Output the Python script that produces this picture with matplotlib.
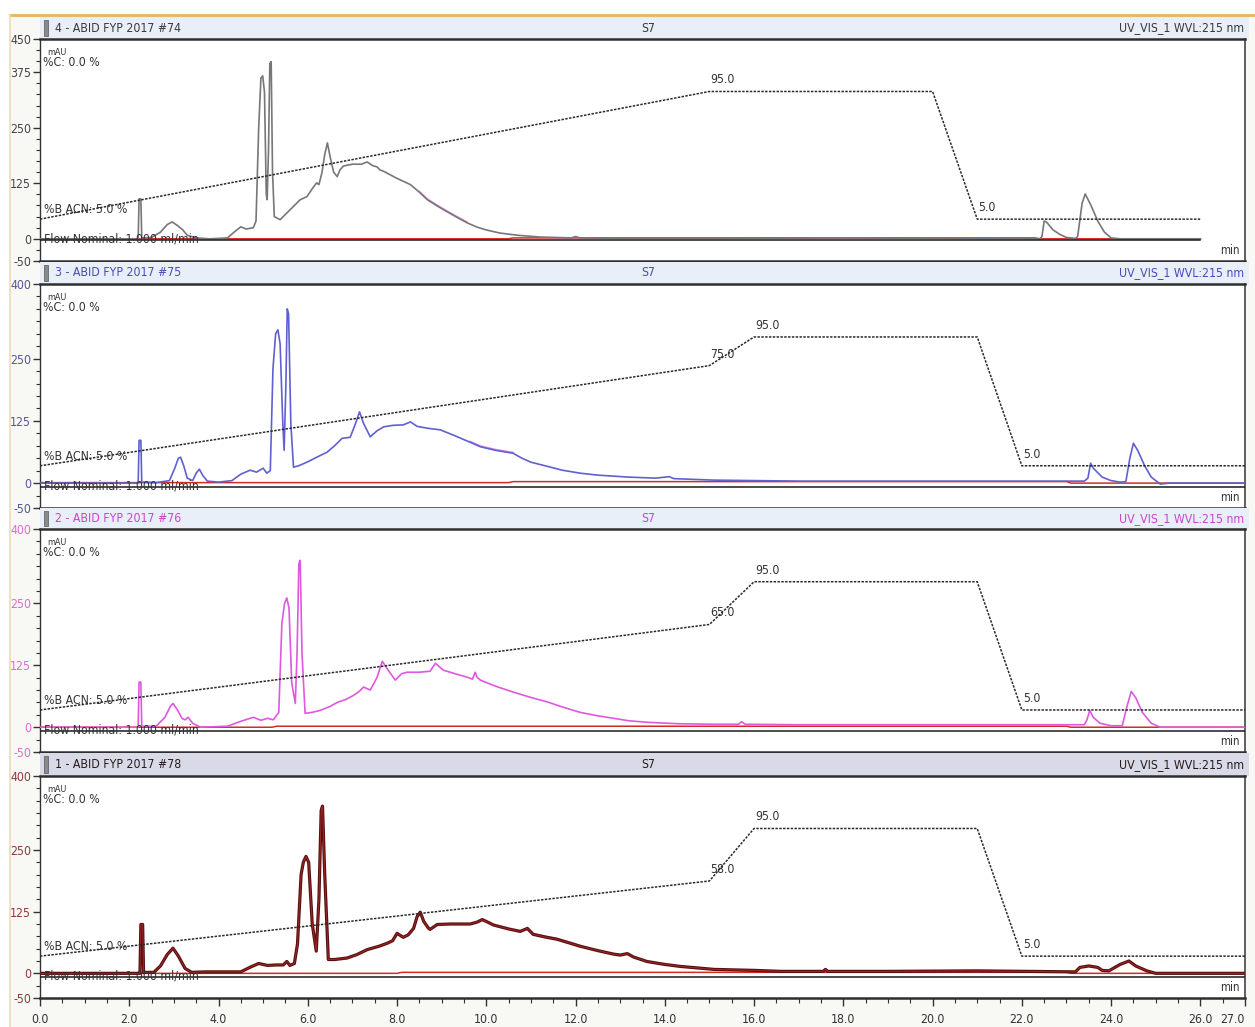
import numpy as np
import matplotlib
matplotlib.use("Agg")
import matplotlib.pyplot as plt
from matplotlib.patches import Rectangle
from matplotlib.lines import Line2D
from matplotlib.ticker import MultipleLocator

plt.rcParams['font.family'] = ['DejaVu Sans']
plt.rcParams['font.stretch'] = 'condensed'

# ---------------- data ----------------
titles = ["4 - ABID FYP 2017 #74", "3 - ABID FYP 2017 #75",
          "2 - ABID FYP 2017 #76", "1 - ABID FYP 2017 #78"]
sample_name = "S7"
channel = "UV_VIS_1 WVL:215 nm"

# panel 1 (grey trace) time [min], signal [mAU]
p1_time = [0.0, 2.0, 2.2, 2.22, 2.26, 2.28, 2.5, 2.7, 2.85, 2.96, 3.08, 3.2, 3.3, 3.5, 3.8,
           4.2, 4.35, 4.5, 4.62, 4.78, 4.84, 4.9, 4.95, 4.99, 5.03, 5.07, 5.09, 5.12, 5.15,
           5.18, 5.21, 5.25, 5.38, 5.6, 5.83, 5.98, 6.13, 6.2, 6.25, 6.32, 6.38, 6.44, 6.5,
           6.58, 6.66, 6.72, 6.8, 7.0, 7.2, 7.33, 7.45, 7.55, 7.62, 7.7, 7.85, 8.0, 8.3, 8.5,
           8.68, 8.9, 9.12, 9.35, 9.57, 9.8, 10.0, 10.3, 10.7, 11.2, 11.9, 12.0, 12.1, 13.0,
           15.0, 18.0, 22.4, 22.45, 22.5, 22.55, 22.7, 22.85, 23.0, 23.2, 23.25, 23.35, 23.42,
           23.55, 23.7, 23.85, 24.0, 24.2, 26.0]
p1_mau = [0, 0, 0, 90, 90, 2, 3, 15, 32, 38, 30, 20, 8, 2, 0,
          2, 15, 27, 22, 25, 40, 250, 362, 367, 330, 100, 88, 200, 395,
          399, 150, 50, 43, 65, 88, 95, 117, 126, 122, 150, 190, 216, 185,
          150, 140, 155, 164, 168, 168, 173, 165, 162, 155, 152, 144, 136, 122, 105,
          88, 74, 61, 48, 36, 26, 20, 13, 8, 4, 2, 5, 2, 1,
          1, 2, 0, 5, 40, 38, 20, 10, 3, 1, 5, 80, 101,
          75, 40, 15, 2, 0, 0]

# panel 2 (blue trace)
p2_time = [0.0, 2.2, 2.22, 2.26, 2.28, 2.6, 2.9, 3.02, 3.1, 3.15, 3.22, 3.3, 3.42, 3.5, 3.57,
           3.65, 3.75, 4.0, 4.3, 4.5, 4.71, 4.85, 5.0, 5.08, 5.16, 5.22, 5.28, 5.33, 5.38,
           5.44, 5.47, 5.51, 5.54, 5.57, 5.62, 5.68, 5.8, 5.98, 6.2, 6.43, 6.6, 6.77, 6.95,
           7.05, 7.16, 7.25, 7.4, 7.55, 7.7, 7.9, 8.14, 8.3, 8.45, 8.7, 8.97, 9.3, 9.64,
           9.87, 10.2, 10.6, 10.8, 11.0, 11.4, 11.7, 12.1, 12.5, 13.2, 13.8, 14.1, 14.2,
           15.1, 17.0, 20.0, 23.4, 23.48, 23.54, 23.6, 23.8, 24.0, 24.2, 24.33, 24.42, 24.5,
           24.6, 24.75, 24.9, 25.1, 25.3, 27.0]
p2_mau = [0, 0, 86, 86, 2, 1, 5, 30, 50, 52, 35, 10, 5, 20, 28,
          15, 4, 2, 5, 18, 26, 22, 30, 20, 25, 230, 300, 308, 280,
          120, 66, 200, 350, 340, 120, 32, 35, 42, 52, 62, 75, 90, 92,
          115, 143, 120, 93, 105, 113, 116, 117, 123, 114, 110, 107, 95, 82,
          73, 66, 60, 50, 42, 33, 26, 20, 16, 12, 10, 13, 9,
          6, 4, 4, 4, 10, 40, 30, 12, 5, 2, 3, 50, 80,
          65, 35, 12, -2, 0, 0]

# panel 3 (magenta trace)
p3_time = [0.0, 2.2, 2.22, 2.26, 2.28, 2.6, 2.8, 2.92, 2.98, 3.08, 3.18, 3.25, 3.32, 3.42, 3.6,
           4.2, 4.5, 4.78, 4.95, 5.1, 5.23, 5.35, 5.42, 5.48, 5.53, 5.58, 5.64, 5.72, 5.76,
           5.8, 5.83, 5.87, 5.94, 6.1, 6.28, 6.5, 6.66, 6.85, 7.02, 7.15, 7.25, 7.4, 7.55,
           7.67, 7.78, 7.96, 8.1, 8.23, 8.5, 8.74, 8.86, 9.04, 9.3, 9.57, 9.69, 9.75, 9.8,
           9.87, 10.2, 10.6, 11.0, 11.37, 11.7, 12.1, 12.5, 12.85, 13.2, 13.6, 14.3, 15.1,
           15.65, 15.72, 15.8, 17.0, 20.0, 23.4, 23.46, 23.52, 23.6, 23.75, 24.0, 24.25,
           24.35, 24.45, 24.55, 24.7, 24.9, 25.1, 27.0]
p3_mau = [0, 0, 91, 91, 2, 2, 20, 42, 48, 35, 18, 15, 20, 8, 0,
          2, 12, 20, 14, 18, 15, 30, 210, 250, 261, 240, 90, 48, 150,
          330, 337, 150, 28, 30, 34, 42, 50, 56, 64, 72, 81, 75, 100,
          133, 118, 95, 108, 111, 111, 113, 129, 115, 108, 101, 97, 111, 100,
          95, 83, 71, 60, 51, 41, 30, 23, 18, 13, 10, 7, 6,
          6, 11, 6, 5, 5, 5, 15, 34, 20, 8, 3, 3,
          40, 72, 60, 30, 8, 0, 0]

# panel 4 (dark red trace)
p4_time = [0.0, 2.24, 2.26, 2.3, 2.32, 2.55, 2.7, 2.85, 2.98, 3.1, 3.25, 3.4, 3.7, 4.5, 4.7,
           4.9, 5.1, 5.3, 5.45, 5.53, 5.6, 5.7, 5.77, 5.85, 5.9, 5.96, 6.02, 6.1, 6.19, 6.25,
           6.3, 6.33, 6.38, 6.46, 6.6, 6.88, 7.1, 7.33, 7.6, 7.78, 7.9, 8.0, 8.14, 8.25, 8.37,
           8.45, 8.52, 8.6, 8.7, 8.74, 8.9, 9.2, 9.64, 9.8, 9.91, 10.05, 10.16, 10.5, 10.76,
           10.92, 11.05, 11.3, 11.59, 12.1, 12.5, 12.85, 13.0, 13.16, 13.3, 13.6, 14.0, 14.35,
           15.1, 16.0, 16.6, 17.55, 17.6, 17.65, 19.0, 21.0, 23.2, 23.3, 23.5, 23.7, 23.8,
           23.95, 24.2, 24.4, 24.55, 24.8, 25.0, 27.0]
p4_mau = [0, 0, 99, 99, 2, 2, 15, 38, 51, 35, 10, 2, 3, 3, 12,
          20, 16, 17, 17, 24, 16, 20, 60, 200, 225, 237, 225, 100, 45, 150,
          330, 339, 200, 28, 28, 31, 38, 48, 55, 61, 66, 81, 73, 78, 91,
          115, 124, 105, 92, 89, 99, 100, 100, 104, 109, 103, 98, 90, 85,
          91, 79, 74, 69, 55, 46, 39, 37, 40, 33, 24, 18, 14,
          8, 6, 4, 4, 8, 4, 4, 5, 3, 12, 15, 12, 6,
          5, 18, 25, 15, 5, 0, 0]

# red baselines
base_time = [[0.0, 10.5, 10.6, 22.3, 22.4, 26.0],
             [0.0, 10.5, 10.6, 23.0, 23.1, 27.0],
             [0.0, 5.2, 5.3, 23.0, 23.1, 27.0],
             [0.0, 8.0, 8.1, 23.0, 23.1, 27.0]]
base_mau = [[0, 0, 2, 2, 0, 0],
            [1, 1, 3, 3, 0, 0],
            [0, 0, 2, 2, 0, 0],
            [0, 0, 2, 2, 0, 0]]

# gradient %B
grad_time = [[0, 15, 20, 21, 26],
             [0, 15, 16, 21, 22, 27],
             [0, 15, 16, 21, 22, 27],
             [0, 15, 16, 21, 22, 27]]
grad_pct = [[5.0, 95.0, 95.0, 5.0, 5.0],
            [5.0, 75.0, 95.0, 95.0, 5.0, 5.0],
            [5.0, 65.0, 95.0, 95.0, 5.0, 5.0],
            [5.0, 58.0, 95.0, 95.0, 5.0, 5.0]]
grad_label_idx = [[1, 3], [1, 2, 4], [1, 2, 4], [1, 2, 4]]

# flow (ml/min)
flow_time = [[0, 26], [0, 27], [0, 27], [0, 27]]
flow_val = [[1.0, 1.0], [1.0, 1.0], [1.0, 1.0], [1.0, 1.0]]

yticks_p = [[-50, 0, 125, 250, 375, 450],
            [-50, 0, 125, 250, 400],
            [-50, 0, 125, 250, 400],
            [-50, 0, 125, 250, 400]]
xtick_vals = [0, 2, 4, 6, 8, 10, 12, 14, 16, 18, 20, 22, 24, 26, 27]

traces_t = [p1_time, p2_time, p3_time, p4_time]
traces_v = [p1_mau, p2_mau, p3_mau, p4_mau]
pink_ranges = [(8.5, 9.6), (9.6, 10.6), None, (10.9, 12.2)]

# ---------------- style ----------------
W, H = 1255, 1027
fig = plt.figure(figsize=(W / 100, H / 100), dpi=100)
fig.patch.set_facecolor('white')


def frect(x0, y0, x1, y1):
    return [x0 / W, 1 - y1 / H, (x1 - x0) / W, (y1 - y0) / H]


fig.add_artist(Rectangle((10 / W, 0), (W - 10) / W, 1 - 15 / H, transform=fig.transFigure,
                         facecolor='#f8f8f4', edgecolor='none', zorder=0))
fig.add_artist(Line2D([10 / W, 1], [1 - 15 / H] * 2, transform=fig.transFigure,
                      color='#e8b86c', lw=2.2, zorder=1))
fig.add_artist(Line2D([10 / W] * 2, [0, 1 - 15 / H], transform=fig.transFigure,
                      color='#f0dcb0', lw=1.2, zorder=1))

panel_frames = [(39, 261), (284, 508), (529, 752), (776, 998)]
header_frames = [(17, 39), (262, 284), (508, 529), (753, 776)]
header_bg = ['#e8eff9', '#e8eff9', '#e8eff9', '#d8dbe7']
header_fg = ['#3a3a3a', '#4a4ab8', '#cc44cc', '#2a1a1a']
ylims = [(-50, 450), (-50, 400), (-50, 400), (-50, 400)]
trace_col = ['#777777', '#6060d0', '#e058e0', '#5a0e0e']
trace_lw = [1.2, 1.2, 1.2, 2.3]
ytick_col = ['#444444', '#55559a', '#d870d0', '#8a3a3a']
FS = 8.8

for i in range(4):
    ht, hb = header_frames[i]
    hax = fig.add_axes(frect(40, ht, 1249, hb))
    hax.set_facecolor(header_bg[i])
    hax.set_xticks([]); hax.set_yticks([])
    for s in hax.spines.values():
        s.set_visible(False)
    hax.add_patch(Rectangle((0.003, 0.15), 0.004, 0.7, transform=hax.transAxes,
                            facecolor='#8a8a8a', edgecolor='#555555', lw=0.5))
    hax.text(0.012, 0.5, titles[i], transform=hax.transAxes, ha='left', va='center',
             fontsize=FS, color=header_fg[i])
    hax.text(0.503, 0.5, sample_name, transform=hax.transAxes, ha='center', va='center',
             fontsize=FS, color=header_fg[i])
    hax.text(0.996, 0.5, channel, transform=hax.transAxes, ha='right', va='center',
             fontsize=FS, color=header_fg[i])

    top, bot = panel_frames[i]
    ax = fig.add_axes(frect(40, top, 1245, bot))
    ax.set_facecolor('white')
    ax.set_xlim(0, 27)
    ax.set_ylim(*ylims[i])

    ax.plot(base_time[i], base_mau[i], color='#d42a2a', lw=1.1, zorder=2)
    ax.plot(traces_t[i], traces_v[i], color=trace_col[i], lw=trace_lw[i], zorder=3)
    if i == 3:
        ax.plot(traces_t[i], traces_v[i], color='#9a2a2a', lw=0.7, zorder=3.2)
    pr = pink_ranges[i]
    if pr is not None:
        tt = [t for t in traces_t[i] if pr[0] <= t <= pr[1]]
        vv = [v for t, v in zip(traces_t[i], traces_v[i]) if pr[0] <= t <= pr[1]]
        ax.plot(tt, [v + 1.5 for v in vv], color='#e050e0', lw=1.2, alpha=0.7, zorder=2.5)

    for side in ('top', 'bottom'):
        ax.spines[side].set_linewidth(1.8)
        ax.spines[side].set_color('#2e2e2e')
    ax.spines['left'].set_linewidth(1.0)
    ax.spines['left'].set_color('#333333')
    ax.spines['right'].set_linewidth(1.2)
    ax.spines['right'].set_color('#444444')

    ax.set_yticks(yticks_p[i])
    ax.set_yticklabels([str(v) for v in yticks_p[i]])
    ax.yaxis.set_minor_locator(MultipleLocator(25))
    ax.tick_params(axis='y', which='major', direction='out', length=5, width=1,
                   labelsize=FS, labelcolor=ytick_col[i], pad=1.5, color='#333333')
    ax.tick_params(axis='y', which='minor', direction='out', length=3, width=0.8,
                   color='#333333')

    if i == 3:
        ax.set_xticks(xtick_vals)
        ax.set_xticklabels([f"{v:.1f}" for v in xtick_vals])
        ax.xaxis.set_minor_locator(MultipleLocator(0.5))
        ax.tick_params(axis='x', which='major', direction='out', length=6, width=1,
                       labelsize=FS, labelcolor='#333333', pad=5, color='#333333')
        ax.tick_params(axis='x', which='minor', direction='out', length=3.5, width=0.8,
                       color='#333333')
        lbls = ax.get_xticklabels()
        lbls[-1].set_horizontalalignment('right')
        lbls[-1].set_x(27)
    else:
        ax.tick_params(axis='x', which='both', bottom=False, labelbottom=False)

    ax.annotate('mAU', (0, 1), xycoords='axes fraction', xytext=(7, -9),
                textcoords='offset pixels', fontsize=6.5, color='#333333', va='top', ha='left')
    ax.annotate('%C: 0.0 %', (0, 1), xycoords='axes fraction', xytext=(3, -17),
                textcoords='offset pixels', fontsize=FS, color='#333333', va='top', ha='left')

    # gradient
    gax = ax.twinx()
    gax.set_ylim(-24.5, 132)
    gax.set_axis_off()
    gax.plot(grad_time[i], grad_pct[i], color='#2a2a2a', lw=1.1, ls=(0, (1.6, 0.9)), zorder=4)
    for k in grad_label_idx[i]:
        gax.annotate(f"{grad_pct[i][k]:.1f}", (grad_time[i][k], grad_pct[i][k]),
                     xytext=(1, 5), textcoords='offset pixels', fontsize=FS,
                     color='#333333', ha='left', va='bottom')
    gax.annotate(f"%B ACN: {grad_pct[i][0]:.1f} %", (grad_time[i][0], grad_pct[i][0]),
                 xytext=(4, 3), textcoords='offset pixels', fontsize=FS,
                 color='#333333', ha='left', va='bottom')

    # flow
    fax = ax.twinx()
    fax.set_ylim(0, 10.5)
    fax.set_axis_off()
    fax.plot(flow_time[i], flow_val[i], color='#1a1a1a', lw=1.1, zorder=1.5)
    fax.annotate(f"Flow Nominal: {flow_val[i][0]:.3f} ml/min", (flow_time[i][0], flow_val[i][0]),
                 xytext=(4, 1), textcoords='offset pixels', fontsize=FS,
                 color='#333333', ha='left', va='center')
    fax.annotate('min', (27, flow_val[i][0]), xytext=(-5, -4), textcoords='offset pixels',
                 fontsize=FS - 0.5, color='#333333', ha='right', va='top')

fig.savefig('out.png', dpi=100, facecolor=fig.get_facecolor())
